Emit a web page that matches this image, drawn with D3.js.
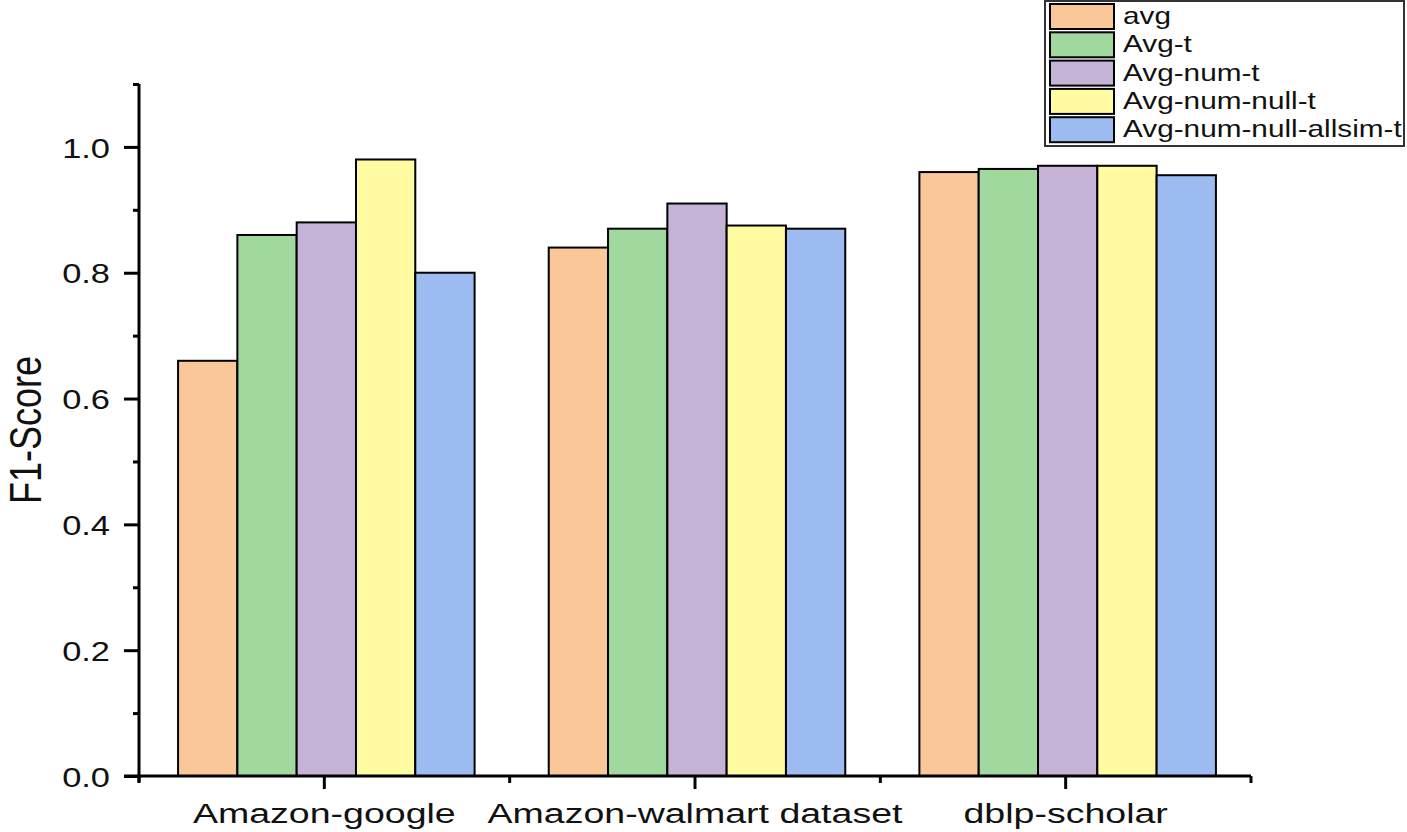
<!DOCTYPE html>
<html>
<head>
<meta charset="utf-8">
<script src="https://cdn.jsdelivr.net/npm/d3@7"></script>
<style>
  html, body { margin: 0; padding: 0; background: #fff; }
  svg { display: block; font-family: "Liberation Sans", Arial, sans-serif; }
</style>
</head>
<body>
<svg id="chart" width="1407" height="832"></svg>
<script>
// ---- data ----
const categories = ["Amazon-google", "Amazon-walmart dataset", "dblp-scholar"];
const seriesNames = ["avg", "Avg-t", "Avg-num-t", "Avg-num-null-t", "Avg-num-null-allsim-t"];
const avgValues        = [0.66, 0.84, 0.96];
const avgTValues       = [0.86, 0.87, 0.965];
const avgNumTValues    = [0.88, 0.91, 0.97];
const avgNumNullValues = [0.98, 0.875, 0.97];
const avgAllsimValues  = [0.80, 0.87, 0.955];
const seriesColors = ["#FAC898", "#A0D89D", "#C4B2D7", "#FFFBA0", "#9CBBF1"];
const majorYTicks = [0, 0.2, 0.4, 0.6, 0.8, 1.0];
const minorYTicks = [0.1, 0.3, 0.5, 0.7, 0.9, 1.1];

const seriesValues = [avgValues, avgTValues, avgNumTValues, avgNumNullValues, avgAllsimValues];

// ---- layout ----
const svg = d3.select("#chart");
const plotLeft = 139, plotRight = 1251, plotTop = 84, plotBottom = 776;
const SX = 1.23;   // horizontal stretch of text in reference

const x0 = d3.scaleBand().domain(categories).range([plotLeft, plotRight]).paddingInner(0.2).paddingOuter(0.1);
const x1 = d3.scaleBand().domain(seriesNames).range([0, x0.bandwidth()]).padding(0);
const y = d3.scaleLinear().domain([0, 1.1]).range([plotBottom, plotTop]);
const color = d3.scaleOrdinal().domain(seriesNames).range(seriesColors);

// ---- bars ----
const rows = categories.map((c, i) => ({cat: c, vals: seriesNames.map((s, j) => ({s, v: seriesValues[j][i]}))}));
const groups = svg.append("g").selectAll("g").data(rows).join("g")
  .attr("transform", d => `translate(${x0(d.cat) + 2},0)`);
groups.selectAll("rect").data(d => d.vals).join("rect")
  .attr("x", d => x1(d.s))
  .attr("y", d => y(d.v))
  .attr("width", x1.bandwidth())
  .attr("height", d => y(0) - y(d.v))
  .attr("fill", d => color(d.s))
  .attr("stroke", "#000")
  .attr("stroke-width", 2);

// ---- y axis ----
const yAxisG = svg.append("g").attr("transform", `translate(${plotLeft},0)`)
  .call(d3.axisLeft(y).tickValues(majorYTicks).tickSize(15).tickSizeOuter(0).tickPadding(14)
    .tickFormat(d3.format(".1f")));
yAxisG.select(".domain").attr("stroke-width", 3).attr("d", `M0,${plotTop}V${plotBottom + 6}`);
yAxisG.selectAll(".tick line").attr("stroke-width", 3);
yAxisG.selectAll(".tick text")
  .attr("font-size", 28).attr("fill", "#111").attr("font-family", "Liberation Sans, Arial, sans-serif")
  .attr("x", -29 / SX).attr("dy", "0.36em")
  .attr("transform", `scale(${SX},1)`);
const yMinorG = svg.append("g").attr("transform", `translate(${plotLeft},0)`)
  .call(d3.axisLeft(y).tickValues(minorYTicks).tickSize(6).tickSizeOuter(0).tickFormat(""));
yMinorG.select(".domain").remove();
yMinorG.selectAll(".tick line").attr("stroke-width", 3);

// ---- x axis ----
const xAxisG = svg.append("g").attr("transform", `translate(0,${plotBottom})`)
  .call(d3.axisBottom(x0).tickSize(13).tickSizeOuter(0).tickPadding(14));
xAxisG.select(".domain").attr("stroke-width", 3).attr("d", `M${plotLeft - 15},0H${plotRight}`);
xAxisG.selectAll(".tick line").attr("stroke-width", 3);
xAxisG.selectAll(".tick text")
  .attr("font-size", 28).attr("fill", "#111").attr("font-family", "Liberation Sans, Arial, sans-serif")
  .attr("transform", `scale(1.34,1)`);
// minor ticks at category boundaries
const boundaries = d3.range(categories.length + 1).map(i => plotLeft + i * x0.step());
xAxisG.selectAll(".minor").data(boundaries).join("line").attr("class", "minor")
  .attr("x1", d => d).attr("x2", d => d).attr("y1", 0).attr("y2", 7)
  .attr("stroke", "#000").attr("stroke-width", 3);

// ---- y title ----
svg.append("text")
  .attr("transform", `translate(41,430) rotate(-90) scale(1,${SX})`)
  .attr("text-anchor", "middle")
  .attr("font-size", 36).attr("fill", "#111")
  .text("F1-Score");

// ---- legend ----
const legend = svg.append("g");
legend.append("rect").attr("x", 1045).attr("y", 1).attr("width", 359).attr("height", 145)
  .attr("fill", "#fff").attr("stroke", "#333").attr("stroke-width", 2);
const li = legend.selectAll("g.item").data(seriesNames).join("g").attr("class", "item")
  .attr("transform", (d, i) => `translate(1050,${4 + i * 28.3})`);
li.append("rect").attr("width", 64).attr("height", 25)
  .attr("fill", d => color(d)).attr("stroke", "#000").attr("stroke-width", 2);
li.append("text")
  .attr("transform", `translate(73,20) scale(1.24,1)`)
  .attr("font-size", 24).attr("fill", "#111")
  .text(d => d);
</script>
</body>
</html>
